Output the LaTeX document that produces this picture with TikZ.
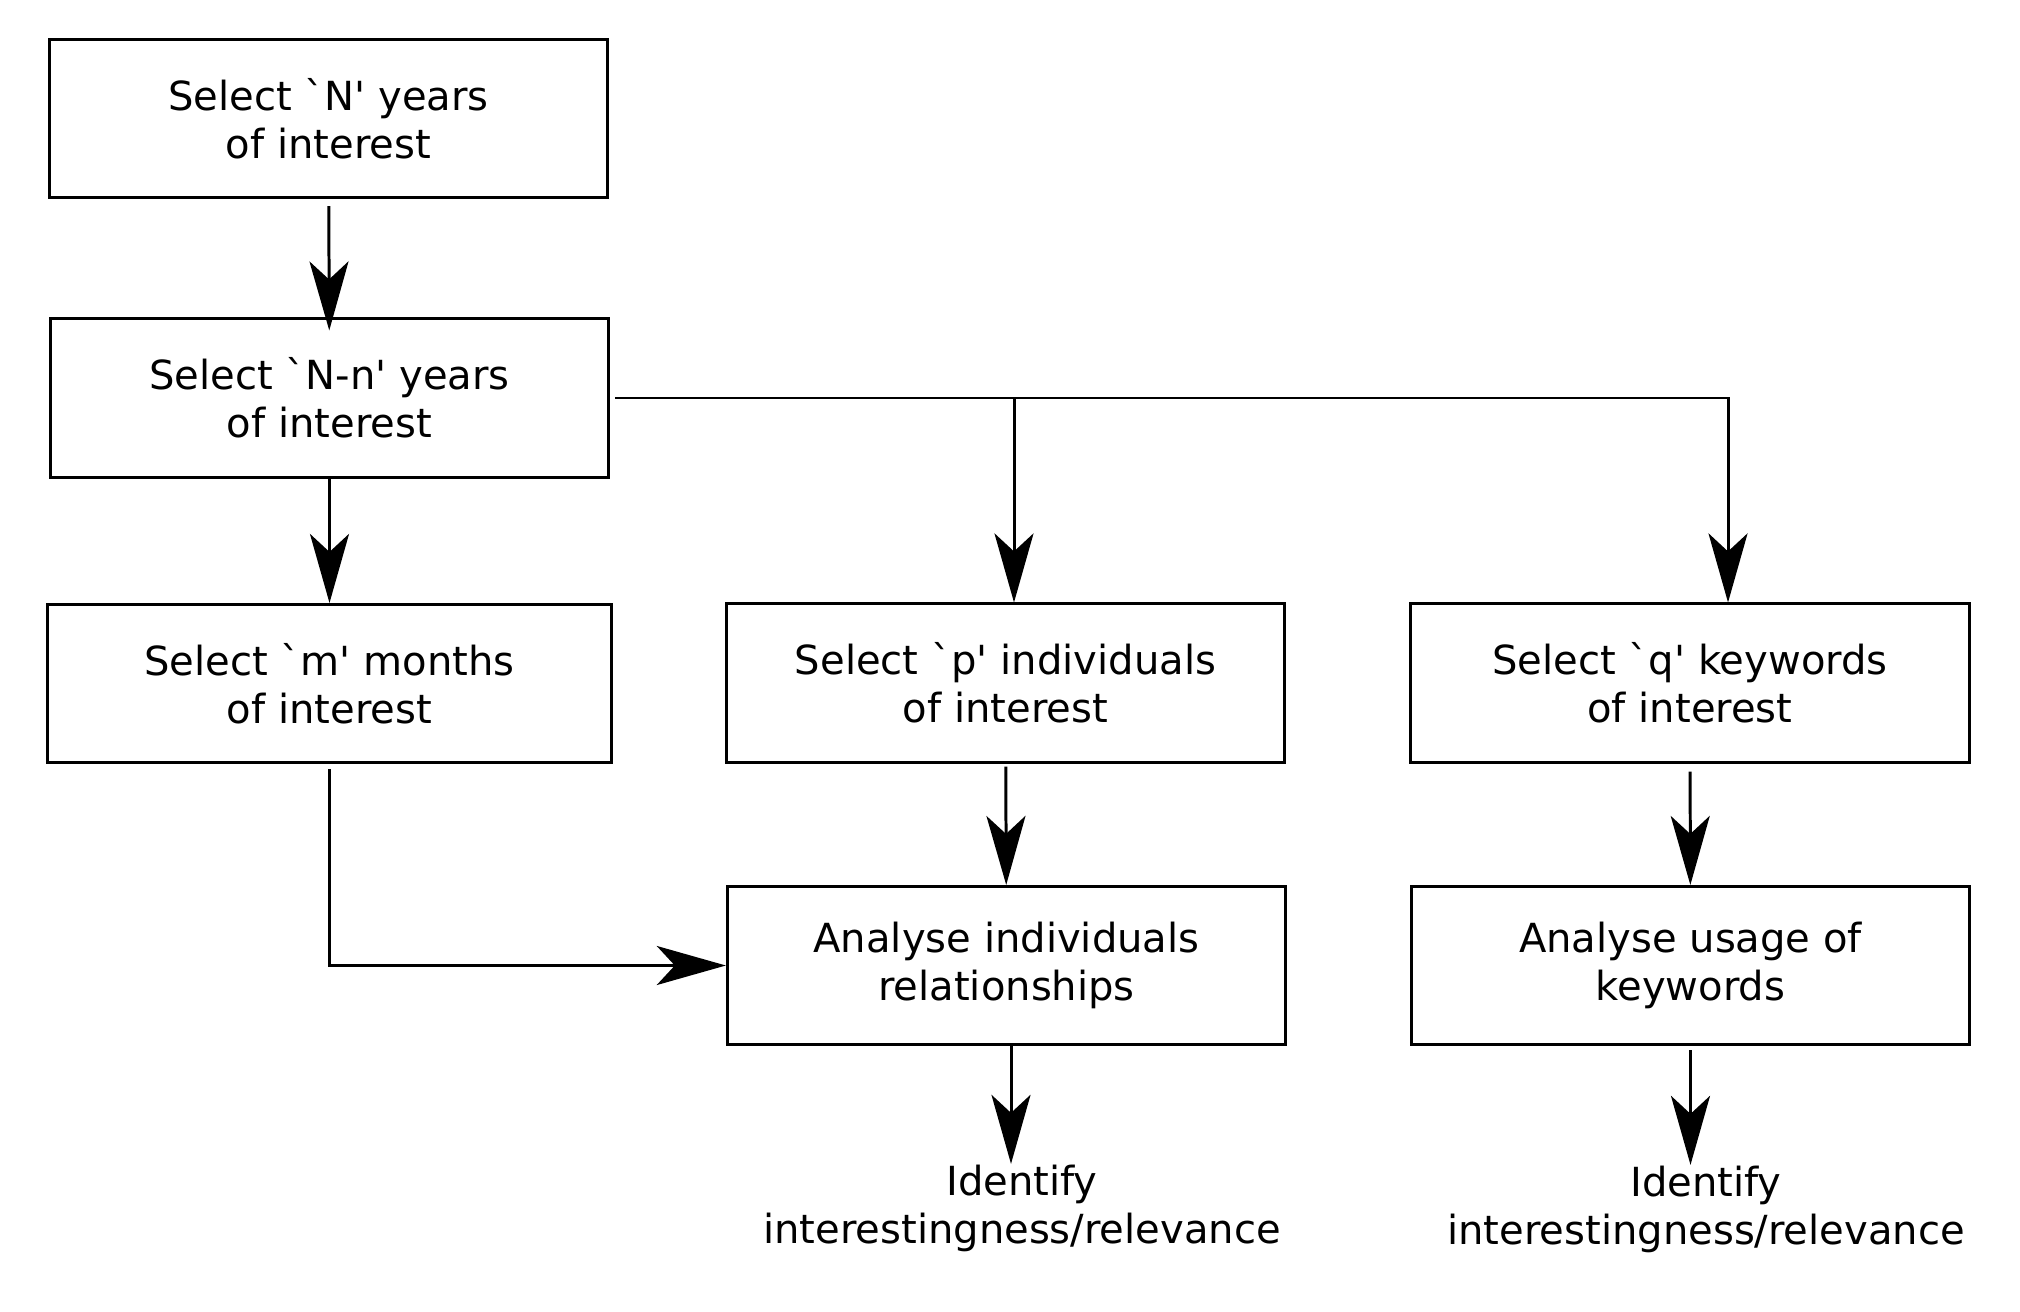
\documentclass[tikz,border=0pt]{standalone}
\usepackage{fontspec}
\setmainfont{DejaVu Sans}[Ligatures=TeXOff]
\usetikzlibrary{arrows.meta}
\begin{document}
\begin{tikzpicture}[x=0.01cm, y=-0.01cm,
    font=\fontsize{11.4pt}{13.66pt}\selectfont,
    stepbox/.style={draw, line width=0.85pt, rectangle, align=center,
      minimum width=5.58cm, minimum height=1.58cm, inner sep=0pt},
    outtext/.style={align=center, inner sep=0pt},
    flow/.style={line width=0.85pt,
      -{Stealth[length=0.69cm, width=0.39cm, inset=0.18cm]}}]
  \useasboundingbox (0,0) rectangle (2020,1312);

  \node[stepbox] (years)  at (328.5,118.5) {Select `N' years\\of interest};
  \node[stepbox] (nyears) at (329.5,398)   {Select `N-n' years\\of interest};
  \node[stepbox, minimum width=5.63cm] (months) at (329.5,683.5) {Select `m' months\\of interest};
  \node[stepbox] (people) at (1005.5,683)  {Select `p' individuals\\of interest};
  \node[stepbox] (words)  at (1690,683)    {Select `q' keywords\\of interest};
  \node[stepbox] (links)  at (1006.5,965.5) {Analyse individuals\\relationships};
  \node[stepbox] (usage)  at (1690.5,965.5) {Analyse usage of\\keywords};

  \node[outtext] (relA) at (1022,1208) {Identify\\interestingness/relevance};
  \node[outtext] (relB) at (1706,1209) {Identify\\interestingness/relevance};

  \coordinate (peopleIn) at ([xshift=0.085cm]people.north);
  \coordinate (wordsIn)  at ([xshift=0.38cm]words.north);

  \draw[flow, shorten <=0.07cm, shorten >=-0.13cm] (years) -- (nyears);
  \draw[flow] (nyears) -- (months);
  \draw[flow, shorten <=0.05cm] (nyears.east) -| (peopleIn);
  \draw[flow, shorten <=0.05cm] (nyears.east) -| (wordsIn);
  \draw[flow, shorten <=0.05cm] (months.south) |- (links.west);
  \draw[flow, shorten <=0.03cm] (people) -- (links);
  \draw[flow, shorten <=0.08cm] (words) -- (usage);
  \draw[flow] ([xshift=0.045cm]links.south) -- ([xshift=0.045cm]links.south |- relA.north);
  \draw[flow, shorten <=0.04cm] (usage.south) -- (usage.south |- relB.north);
\end{tikzpicture}
\end{document}
